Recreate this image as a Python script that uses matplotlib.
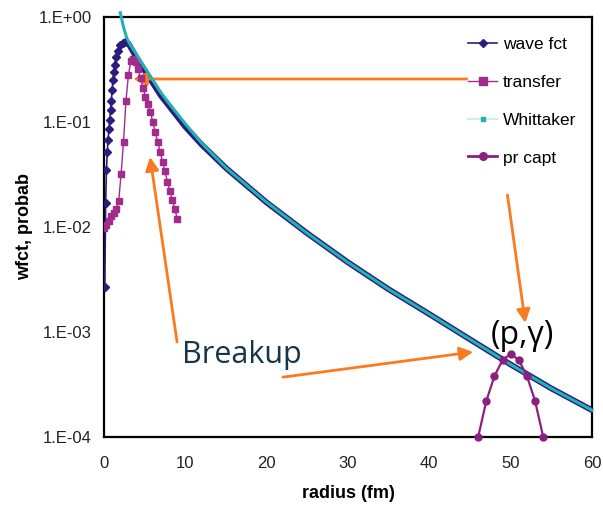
import matplotlib
matplotlib.use("Agg")
import matplotlib.pyplot as plt
from matplotlib.lines import Line2D

# values
wave_r = [0.1, 0.2, 0.3, 0.4, 0.5, 0.6, 0.7, 0.8, 0.9, 1.0, 1.1, 1.2, 1.3, 1.5, 1.7,
          2.0, 2.3, 2.6, 3.0, 3.5, 4.0, 5.0, 6.0, 7.0, 8.0, 10.0, 12.0, 15.0, 20.0,
          25.0, 30.0, 35.0, 40.0, 45.0, 50.0, 55.0, 60.0]
wave_fct = [0.0027, 0.017, 0.035, 0.052, 0.068, 0.085, 0.105, 0.13, 0.16, 0.2, 0.25,
            0.3, 0.35, 0.42, 0.48, 0.54, 0.57, 0.58, 0.56, 0.48, 0.41, 0.31, 0.235,
            0.178, 0.142, 0.09, 0.061, 0.0364, 0.0171, 0.0087, 0.0046, 0.00255,
            0.00148, 0.00085, 0.00049, 0.00029, 0.00018]

transfer_r = [0.0, 0.3, 0.6, 0.9, 1.2, 1.5, 1.8, 2.1, 2.4, 2.7, 3.0, 3.3, 3.6, 3.9,
              4.2, 4.5, 4.8, 5.1, 5.4, 5.7, 6.0, 6.3, 6.6, 6.9, 7.2, 7.5, 7.8, 8.1,
              8.4, 8.7, 9.0]
transfer = [0.0098, 0.0104, 0.0114, 0.0126, 0.0135, 0.015, 0.0175, 0.032, 0.065,
            0.16, 0.28, 0.38, 0.40, 0.37, 0.32, 0.26, 0.21, 0.175, 0.15, 0.125, 0.1,
            0.08, 0.065, 0.052, 0.042, 0.034, 0.027, 0.022, 0.018, 0.015, 0.012]

whit_r = [2.0, 2.4, 2.8, 3.2, 3.6, 4.0, 4.5, 5.0, 6.0, 7.0, 8.0, 9.0, 10.0, 12.0,
          15.0, 20.0, 25.0, 30.0, 35.0, 40.0, 45.0, 50.0, 55.0, 60.0]
whittaker = [1.1, 0.8, 0.63, 0.55, 0.49, 0.44, 0.38, 0.33, 0.25, 0.19, 0.15, 0.12,
             0.096, 0.063, 0.0366, 0.0172, 0.0087, 0.0046, 0.00255, 0.00148,
             0.00085, 0.00049, 0.00029, 0.00018]

capt_r = [46, 47, 48, 49, 50, 51, 52, 53, 54]
pr_capt = [1.0e-4, 2.2e-4, 3.8e-4, 5.4e-4, 6.2e-4, 5.4e-4, 3.8e-4, 2.2e-4, 1.0e-4]

yticks = [1e-4, 1e-3, 1e-2, 1e-1, 1e0]
ytick_labels = ['1.E-04', '1.E-03', '1.E-02', '1.E-01', '1.E+00']
xticks = [0, 10, 20, 30, 40, 50, 60]

navy = '#2B1C7E'
magenta = '#A22B8C'
teal = '#22B2B4'
purple = '#8A2180'
orange = '#F97A1F'

plt.rcParams['font.family'] = ['Liberation Sans', 'DejaVu Sans']

fig = plt.figure(figsize=(6.03, 5.09), dpi=100)
ax = fig.add_axes([0.1725, 0.1415, 0.8093, 0.825])

# wave function: dense diamonds near origin, thick line in the tail
dense = [r <= 2.6 for r in wave_r]
ax.plot(wave_r, wave_fct, color=navy, lw=1.2, marker='D', ms=3.6,
        markevery=dense, zorder=3)
tail_r = [r for r in wave_r if r >= 2.6]
tail_v = [v for r, v in zip(wave_r, wave_fct) if r >= 2.6]
ax.plot(tail_r, tail_v, color=navy, lw=4.2, solid_capstyle='round', zorder=3)

ax.plot(transfer_r, transfer, color=magenta, lw=1, marker='s', ms=5,
        zorder=4)
ax.plot(whit_r, whittaker, color=teal, lw=2.2, zorder=5, clip_on=False)
ax.plot(capt_r, pr_capt, color=purple, lw=1.6, marker='o', ms=5, zorder=6,
        clip_on=False)

ax.set_yscale('log')
ax.set_xlim(0, 60)
ax.set_ylim(1e-4, 1)
ax.set_yticks(yticks)
ax.set_yticklabels(ytick_labels)
ax.minorticks_off()
ax.set_xticks(xticks)
ax.tick_params(axis='y', length=0, pad=8.6, labelsize=12, labelcolor='#222222')
ax.tick_params(axis='x', length=0, pad=14, labelsize=12, labelcolor='#222222')
for s in ax.spines.values():
    s.set_linewidth(1.6)
    s.set_color('black')

fig.text(348 / 603, 1 - 493 / 509, 'radius (fm)', ha='center', va='center',
         fontsize=13, fontweight='bold')
fig.text(25 / 603, 1 - 227 / 509, 'wfct, probab', ha='center', va='center',
         rotation=90, fontsize=13, fontweight='bold')

handles = [
    Line2D([], [], color=navy, lw=1.2, marker='D', ms=3.6),
    Line2D([], [], color=magenta, lw=1, marker='s', ms=6),
    Line2D([], [], color='#CDEFEF', lw=1.5, marker='s', ms=2.5,
           markerfacecolor=teal, markeredgecolor=teal),
    Line2D([], [], color=purple, lw=2, marker='o', ms=5.5),
]
labels = ['wave fct', 'transfer', 'Whittaker', 'pr capt']
ax.legend(handles, labels, loc='upper left', bbox_to_anchor=(0.746, 0.952),
          frameon=False, fontsize=12.5, handlelength=1.67, handletextpad=0.35,
          labelspacing=1.3, borderpad=0, borderaxespad=0)

arrow = dict(arrowstyle='-|>', color=orange, lw=2, mutation_scale=20,
             shrinkA=0, shrinkB=0)
ax.annotate('', xy=(3.57, 0.257), xytext=(44.6, 0.257), arrowprops=arrow)
ax.annotate('', xy=(5.66, 10 ** -1.333), xytext=(8.98, 10 ** -3.095),
            arrowprops=arrow)
ax.annotate('', xy=(45.4, 10 ** -3.19), xytext=(22.0, 10 ** -3.43),
            arrowprops=arrow)
ax.annotate('', xy=(51.8, 10 ** -2.914), xytext=(49.6, 10 ** -1.695),
            arrowprops=arrow)

ax.text(9.6, 10 ** -3.295, 'Breakup', ha='left', va='baseline', fontsize=22,
        family=['Open Sans', 'DejaVu Sans'], color='#17364A', zorder=7)
ax.text(51.4, 10 ** -3.03, '(p,γ)', ha='center', va='center', fontsize=23,
        family=['Open Sans', 'DejaVu Sans'], color='black', zorder=7)

fig.savefig('out.png', dpi=100)
